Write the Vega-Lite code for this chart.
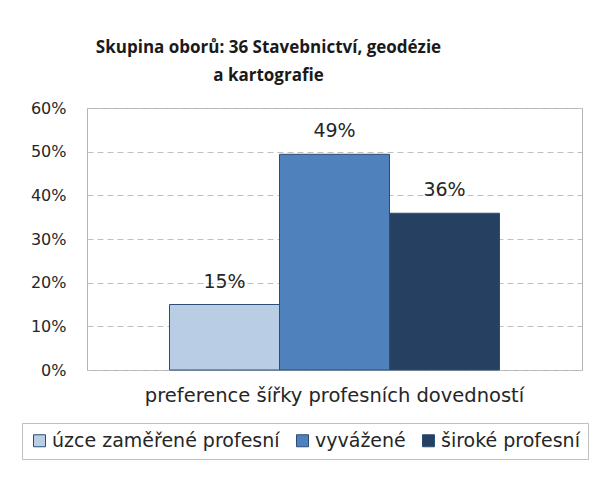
{
  "$schema": "https://vega.github.io/schema/vega-lite/v6.json",
  "autosize": "none",
  "width": 495,
  "height": 262,
  "padding": {"left": 87, "top": 108, "right": 19, "bottom": 108},
  "background": "white",
  "title": {
    "text": ["Skupina oborů:  36 Stavebnictví, geodézie", "a kartografie"],
    "font": "Open Sans",
    "fontSize": 17,
    "fontWeight": "bold",
    "color": "#1a1a1a",
    "lineHeight": 28,
    "anchor": "middle",
    "dx": -66,
    "offset": 15
  },
  "config": {
    "view": {"stroke": "#b3b3b3", "strokeWidth": 1}
  },
  "data": {
    "values": [
      {"group": "preference šířky profesních dovedností", "series": "úzce zaměřené profesní", "value": 0.15},
      {"group": "preference šířky profesních dovedností", "series": "vyvážené", "value": 0.494},
      {"group": "preference šířky profesních dovedností", "series": "široké profesní", "value": 0.359}
    ]
  },
  "encoding": {
    "x": {
      "field": "group",
      "type": "nominal",
      "scale": {"paddingInner": 0, "paddingOuter": 0.25},
      "axis": {
        "title": null,
        "labelAngle": 0,
        "ticks": false,
        "domain": false,
        "labelPadding": 16,
        "labelLimit": 0,
        "labelFont": "DejaVu Sans",
        "labelFontSize": 19.5,
        "labelColor": "#262626"
      }
    },
    "xOffset": {
      "field": "series",
      "type": "nominal",
      "sort": ["úzce zaměřené profesní", "vyvážené", "široké profesní"],
      "scale": {"paddingInner": 0, "paddingOuter": 0}
    },
    "y": {
      "field": "value",
      "type": "quantitative",
      "scale": {"domain": [0, 0.6], "nice": false},
      "axis": {
        "title": null,
        "format": ".0%",
        "values": [0, 0.1, 0.2, 0.3, 0.4, 0.5, 0.6],
        "ticks": false,
        "domain": false,
        "labelPadding": 21,
        "labelFont": "DejaVu Sans",
        "labelFontSize": 16,
        "labelColor": "#262626",
        "gridColor": "#bfbfbf",
        "gridDash": [6, 4],
        "gridWidth": 1
      }
    }
  },
  "layer": [
    {
      "mark": {"type": "bar", "stroke": "#2c4d75", "strokeWidth": 1},
      "encoding": {
        "color": {
          "field": "series",
          "type": "nominal",
          "sort": ["úzce zaměřené profesní", "vyvážené", "široké profesní"],
          "scale": {
            "domain": ["úzce zaměřené profesní", "vyvážené", "široké profesní"],
            "range": ["#b9cde5", "#4f81bd", "#254061"]
          },
          "legend": {
            "orient": "none",
            "legendX": -65,
            "legendY": 315,
            "direction": "horizontal",
            "title": null,
            "strokeColor": "#bfbfbf",
            "padding": 8,
            "symbolType": "square",
            "symbolSize": 144,
            "symbolStrokeColor": "#2c4d75",
            "symbolStrokeWidth": 1,
            "symbolOpacity": 1,
            "columnPadding": 13,
            "labelOffset": 3,
            "labelFont": "DejaVu Sans",
            "labelFontSize": 19,
            "labelColor": "#262626",
            "labelLimit": 0
          }
        }
      }
    },
    {
      "mark": {
        "type": "text",
        "baseline": "alphabetic",
        "dy": -17,
        "font": "DejaVu Sans",
        "fontSize": 19,
        "color": "#262626"
      },
      "encoding": {
        "text": {"field": "value", "type": "quantitative", "format": ".0%"}
      }
    }
  ]
}
